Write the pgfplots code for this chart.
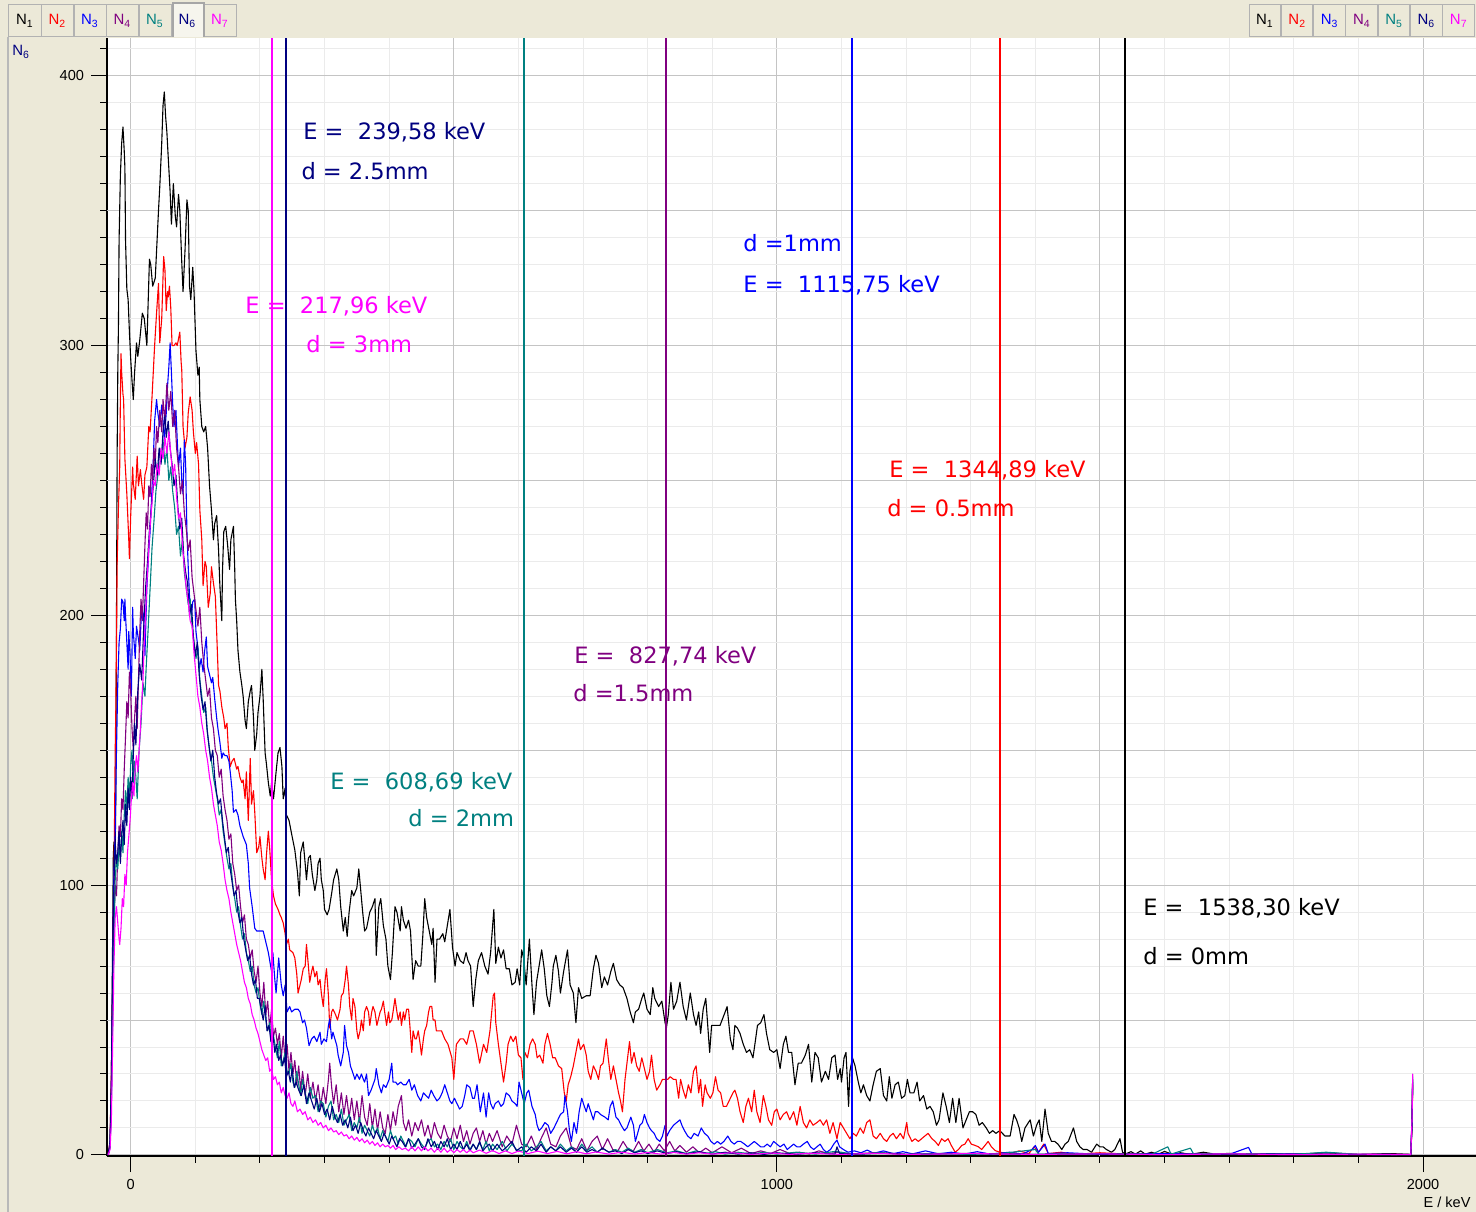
\documentclass[border=0pt]{standalone}
\usepackage{fontspec}
\setmainfont{Liberation Sans}
\newfontfamily\dv{DejaVu Sans}
\usepackage{pgfplots}
\pgfplotsset{compat=1.18}
\definecolor{bg}{HTML}{ECE9D8}
\definecolor{cN1}{HTML}{000000}
\definecolor{cN2}{HTML}{FF0000}
\definecolor{cN3}{HTML}{0000FF}
\definecolor{cN4}{HTML}{800080}
\definecolor{cN5}{HTML}{008080}
\definecolor{cN6}{HTML}{000080}
\definecolor{cN7}{HTML}{FF00FF}
\definecolor{gmaj}{HTML}{C4C4C4}
\definecolor{gmin}{HTML}{EBEBEB}
\newcommand{\lbl}{\dv\fontsize{11.3}{13}\selectfont}
\newcommand{\tabf}{\fontsize{7.5}{8}\selectfont}
\begin{document}
\begin{tikzpicture}
\fill[bg] (0bp,0bp) rectangle (738bp,606bp);
\draw[gray!55, line width=0.6bp] (4bp,0bp) -- (4bp,587.5bp);
% tabs left
\foreach \i in {0,1,2,3,4,6}{
  \draw[fill=bg, draw=gray!60, line width=0.5bp] ({(4.5+16.25*\i)*1bp},587.5bp) rectangle ({(20.5+16.25*\i)*1bp},603.5bp);
}
\draw[fill=white!55!bg, draw=gray!70, line width=0.6bp] (102bp,587.5bp) -- (102bp,604.5bp) -- (86.5bp,604.5bp) -- (86.5bp,587.5bp);
\foreach \i/\c in {0/cN1,1/cN2,2/cN3,3/cN4,4/cN5,5/cN6,6/cN7}{
  \pgfmathtruncatemacro{\n}{\i+1}
  \node[text=\c, font=\tabf, inner sep=0] at ({(12.5+16.25*\i)*1bp},595.5bp) {N\textsubscript{\n}};
}
% tabs right
\foreach \i/\c in {0/cN1,1/cN2,2/cN3,3/cN4,4/cN5,5/cN6,6/cN7}{
  \draw[fill=bg, draw=gray!60, line width=0.5bp] ({(624.5+16.15*\i)*1bp},587.5bp) rectangle ({(640.3+16.15*\i)*1bp},603.5bp);
  \pgfmathtruncatemacro{\n}{\i+1}
  \node[text=\c, font=\tabf, inner sep=0] at ({(632.5+16.15*\i)*1bp},595.5bp) {N\textsubscript{\n}};
}
\node[text=cN6, font=\tabf, inner sep=0, anchor=west] at (6bp,580bp) {N\textsubscript{6}};
\begin{axis}[
  at={(53.5bp,28bp)}, anchor=south west,
  scale only axis, width=684.5bp, height=559bp,
  xmin=-36.7, xmax=2082, ymin=-0.4, ymax=414,
  axis lines*=left,
  axis line style={black, line width=0.6bp},
  axis background/.style={fill=white},
  tick align=outside,
  tick style={black, line width=0.5bp},
  major tick length=8bp, minor tick length=3.3bp,
  xtick={0,1000,2000}, xticklabels={0,1000,2000},
  minor xtick={100,200,...,2000},
  extra x ticks={500,1500}, extra x tick labels={},
  extra x tick style={grid=major, major tick length=3.3bp},
  ytick={0,100,200,300,400},
  minor ytick={10,20,...,410},
  extra y ticks={50,150,250,350}, extra y tick labels={},
  extra y tick style={grid=major, major tick length=3.3bp},
  grid=both,
  major grid style={gmaj, line width=0.5bp},
  minor grid style={gmin, line width=0.5bp},
  tick label style={font=\fontsize{7.3}{8}\selectfont},
  /pgf/number format/assume math mode=true,
  /pgf/number format/1000 sep={},
  every axis plot/.append style={line width=0.55bp, mark=none, line join=round},
]
% N1 black
\addplot[draw=cN1] coordinates {(-35,0)(-32,3)(-30,25)(-28,80)(-27,110)(-26,116)(-25,105)(-24,112)(-23,135)(-22,200)(-21,260)(-20,290)(-19,307)(-18,339)(-16,363)(-14,375)(-12,381)(-10,372)(-9,366)(-8,339)(-6,321)(-4,317)(-2,305)(0,295)(2,287)(4,280)(6,290)(9,301)(11,296)(14,302)(18,312)(21,310)(25,300)(29,332)(31,330)(34,322)(38,325)(40,335)(43,350)(45,359)(48,375)(50,389)(52,394)(54,385)(56,379)(58,370)(61,357)(63,345)(66,360)(69,348)(71,344)(74,356)(76,350)(79,331)(81,320)(84,335)(87,354)(89,350)(91,322)(93,317)(96,329)(98,320)(101,298)(104,289)(106,292)(107,280)(110,270)(113,268)(116,270)(119,262)(122,248)(125,239)(128,228)(130,234)(133,237)(136,224)(138,211)(141,198)(142,216)(144,231)(147,233)(150,226)(153,217)(155,228)(159,233)(161,217)(162,206)(164,198)(166,187)(169,179)(172,174)(174,170)(177,161)(179,158)(182,168)(185,172)(187,174)(190,162)(192,150)(195,156)(197,164)(200,170)(203,180)(205,169)(208,149)(210,145)(213,138)(216,133)(218,138)(221,132)(225,142)(228,149)(231,151)(234,144)(236,132)(239,136)(241,126)(245,124)(249,119)(254,113)(258,105)(261,96)(263,112)(267,116)(270,108)(272,102)(275,110)(278,111)(281,104)(285,98)(288,102)(290,108)(293,110)(295,102)(298,98)(300,91)(304,89)(307,91)(311,97)(314,102)(319,106)(322,102)(325,92)(329,83)(332,88)(335,81)(338,90)(342,98)(345,96)(350,99)(353,106)(356,98)(359,90)(362,83)(365,84)(370,90)(374,92)(378,95)(380,74)(384,92)(387,95)(391,85)(395,80)(398,70)(402,65)(405,75)(409,92)(412,90)(417,83)(419,92)(422,87)(426,84)(430,87)(433,83)(437,65)(441,72)(445,70)(449,70)(452,81)(455,95)(458,88)(462,83)(466,78)(468,84)(471,64)(474,80)(478,80)(483,82)(486,79)(490,85)(494,91)(498,77)(502,70)(505,75)(510,72)(515,71)(519,75)(522,72)(526,70)(530,55)(534,65)(538,72)(543,75)(548,70)(553,67)(557,75)(562,91)(565,71)(569,77)(573,73)(577,76)(581,69)(586,69)(590,63)(595,64)(598,69)(602,63)(605,76)(608,73)(612,63)(617,80)(621,63)(624,52)(628,64)(632,70)(636,76)(640,69)(644,59)(648,55)(652,64)(654,70)(658,74)(662,68)(665,60)(670,68)(676,76)(680,63)(685,60)(689,49)(693,62)(698,58)(705,59)(711,59)(716,69)(720,74)(724,71)(729,62)(733,66)(738,63)(743,68)(747,71)(752,65)(757,63)(762,62)(768,58)(773,53)(778,49)(781,53)(786,54)(791,58)(794,60)(799,54)(804,52)(808,62)(811,58)(817,55)(822,57)(827,49)(829,47)(832,52)(836,64)(840,54)(845,57)(850,64)(855,55)(860,50)(866,60)(871,52)(875,48)(879,53)(882,45)(886,54)(890,58)(896,38)(899,48)(907,48)(912,48)(920,53)(923,55)(928,43)(932,39)(935,48)(939,47)(943,45)(948,41)(953,38)(958,39)(963,36)(966,41)(970,48)(975,49)(980,52)(984,45)(989,39)(995,38)(1000,39)(1005,32)(1010,41)(1014,44)(1018,38)(1023,38)(1028,26)(1033,34)(1038,34)(1044,37)(1049,41)(1054,27)(1059,38)(1064,36)(1069,27)(1075,31)(1080,28)(1085,36)(1090,37)(1094,28)(1098,32)(1100,27)(1104,36)(1107,38)(1111,18)(1113,31)(1117,36)(1121,33)(1126,27)(1130,23)(1134,26)(1139,22)(1144,20)(1149,26)(1154,31)(1160,32)(1165,22)(1170,20)(1174,29)(1178,21)(1183,26)(1188,27)(1193,21)(1198,22)(1202,28)(1206,23)(1212,23)(1217,27)(1221,20)(1227,22)(1232,17)(1237,18)(1242,16)(1247,11)(1251,13)(1257,23)(1262,18)(1267,12)(1272,21)(1277,12)(1282,21)(1288,10)(1293,13)(1298,16)(1303,16)(1308,15)(1313,11)(1318,12)(1324,10)(1329,8)(1334,9)(1339,8)(1345,9)(1353,7)(1361,7)(1367,15)(1371,13)(1375,10)(1379,5)(1384,10)(1392,13)(1397,7)(1402,11)(1406,13)(1410,5)(1415,17)(1420,8)(1425,5)(1430,5)(1435,4)(1441,2)(1446,4)(1451,5)(1459,10)(1464,5)(1469,3)(1474,2)(1480,2)(1487,1)(1495,4)(1500,3)(1505,3)(1510,2)(1518,1)(1523,2)(1531,6)(1535,1)(1539,0.3)(1548,1.2)(1555,0.3)(1563,1.5)(1570,0.3)(1580,1)(1590,0.2)(1600,1.3)(1612,0.2)(1625,0.8)(1640,0.2)(1660,1)(1680,0.2)(1700,0.6)(1720,0.2)(1760,0.5)(1800,0.2)(1850,0.8)(1900,0.2)(1950,0.5)(1981,0.2)(1983,12)(1984,28)};
% N2 red
\addplot[draw=cN2] coordinates {(-35,0)(-32,5)(-30,30)(-28,60)(-27,90)(-26,100)(-25,125)(-24,150)(-23,166)(-22,190)(-21,219)(-19,240)(-17,255)(-16,280)(-15,297)(-14,290)(-12,282)(-11,280)(-9,258)(-6,245)(-3,228)(-2,221)(0,237)(3,255)(4,249)(7,243)(10,259)(12,248)(15,254)(17,249)(20,243)(22,252)(25,255)(28,270)(30,268)(33,281)(37,300)(40,312)(43,323)(45,301)(48,310)(51,333)(53,328)(55,313)(57,320)(58,318)(60,322)(62,314)(64,300)(67,300)(70,301)(72,300)(76,305)(78,294)(79,291)(81,270)(84,262)(87,266)(89,275)(92,281)(95,276)(97,268)(100,260)(102,264)(105,256)(107,239)(110,228)(112,211)(115,220)(117,218)(120,203)(123,208)(125,218)(128,212)(131,207)(133,194)(136,174)(138,172)(141,166)(144,162)(146,158)(149,160)(151,151)(154,144)(157,146)(160,147)(164,143)(166,144)(169,140)(172,138)(174,139)(177,132)(179,142)(182,124)(185,147)(187,130)(190,135)(192,127)(195,112)(198,114)(200,118)(203,110)(205,106)(208,102)(210,111)(213,120)(215,114)(218,102)(221,96)(224,93)(228,91)(231,89)(233,88)(236,86)(239,82)(241,78)(244,80)(246,76)(251,75)(254,73)(257,67)(259,60)(262,63)(264,65)(267,69)(270,70)(272,78)(275,70)(277,64)(280,68)(282,70)(285,66)(288,68)(290,63)(293,65)(295,60)(298,55)(301,65)(303,69)(306,59)(308,47)(311,53)(313,54)(317,52)(320,50)(324,54)(326,59)(329,60)(332,65)(334,70)(337,63)(339,55)(342,50)(344,58)(347,55)(350,46)(352,43)(355,46)(357,50)(360,46)(362,53)(365,55)(368,53)(370,48)(373,53)(375,55)(378,53)(381,48)(383,50)(386,53)(388,54)(391,57)(393,53)(396,48)(399,53)(401,49)(404,50)(406,53)(409,58)(412,53)(414,50)(417,53)(419,48)(422,53)(424,50)(427,54)(430,54)(432,48)(435,38)(437,46)(440,43)(442,43)(445,46)(448,41)(450,37)(453,43)(455,46)(458,48)(461,53)(463,55)(466,55)(468,50)(471,50)(473,46)(476,46)(481,46)(486,43)(491,41)(497,36)(500,28)(504,41)(510,43)(515,43)(520,41)(525,46)(530,46)(535,41)(540,34)(546,41)(551,38)(556,46)(561,59)(563,60)(565,49)(569,41)(573,34)(577,27)(581,34)(584,41)(588,44)(592,42)(596,44)(600,37)(604,36)(607,28)(610,38)(614,36)(618,41)(622,43)(626,41)(629,36)(633,37)(638,34)(641,41)(645,45)(649,41)(653,36)(657,36)(662,33)(667,32)(671,23)(674,20)(677,26)(681,29)(685,33)(689,38)(693,43)(696,39)(701,41)(705,37)(708,31)(712,28)(716,33)(720,31)(724,28)(727,33)(731,34)(736,43)(739,36)(743,28)(747,33)(751,28)(755,23)(758,20)(761,16)(765,28)(769,36)(772,42)(775,34)(779,38)(783,33)(787,31)(791,36)(794,33)(799,28)(803,31)(806,37)(810,28)(814,24)(819,26)(823,28)(827,28)(831,28)(835,29)(840,28)(844,28)(848,21)(851,28)(855,24)(859,21)(863,26)(867,23)(871,31)(875,33)(879,23)(882,28)(885,18)(889,26)(892,23)(897,21)(901,23)(905,29)(909,24)(913,23)(917,18)(922,18)(928,21)(932,23)(935,24)(939,21)(943,16)(948,12)(952,18)(956,21)(961,16)(965,24)(969,16)(974,12)(979,22)(983,18)(987,13)(992,11)(996,16)(1000,17)(1005,13)(1010,15)(1015,16)(1020,13)(1026,16)(1031,11)(1036,18)(1041,12)(1046,10)(1051,13)(1056,11)(1062,12)(1067,13)(1072,11)(1077,13)(1082,8)(1087,12)(1093,6)(1098,12)(1103,10)(1108,8)(1113,6)(1118,8)(1123,7)(1129,10)(1134,8)(1139,12)(1144,13)(1149,7)(1154,6)(1160,8)(1165,6)(1170,5)(1175,7)(1180,8)(1185,6)(1191,8)(1196,6)(1201,12)(1203,8)(1209,5)(1214,6)(1219,5)(1224,6)(1229,7)(1234,8)(1240,6)(1245,5)(1250,3.5)(1255,6)(1260,5)(1265,6)(1270,3.5)(1276,1)(1281,2)(1286,3.5)(1291,4)(1296,6)(1301,4)(1307,3.5)(1312,3)(1317,2)(1322,3.5)(1327,5)(1332,3)(1338,1.6)(1345,1)(1360,0.5)(1375,1.5)(1390,0.5)(1398,3)(1405,1)(1413,4)(1420,0.5)(1440,1)(1460,0.2)(1500,0.8)(1550,0.2)(1600,0.6)(1650,0.2)(1700,0.5)(1750,0.1)(1800,0.4)(1900,0.1)(1981,0.2)(1983,10)(1984,26)};
% N3 blue
\addplot[draw=cN3] coordinates {(-35,0)(-32,3)(-30,20)(-28,60)(-27,90)(-26,105)(-24,120)(-22,150)(-20,175)(-18,190)(-16,195)(-14,206)(-12,205)(-10,198)(-9,206)(-8,200)(-6,190)(-4,180)(-3,194)(-1,185)(1,170)(3,203)(4,194)(7,184)(9,196)(12,191)(14,187)(17,203)(20,200)(22,185)(25,210)(28,224)(30,231)(32,242)(35,258)(37,272)(40,280)(42,275)(45,270)(48,278)(50,272)(52,265)(55,275)(57,285)(59,292)(61,301)(63,290)(65,278)(67,270)(70,276)(72,265)(74,255)(77,262)(79,250)(81,245)(83,265)(85,256)(87,231)(89,218)(91,207)(94,200)(96,205)(99,206)(101,194)(104,188)(106,180)(109,184)(112,179)(114,186)(117,192)(119,181)(122,178)(125,175)(127,177)(130,169)(133,162)(135,158)(138,153)(141,147)(143,149)(146,148)(149,148)(152,146)(154,142)(157,135)(159,127)(163,128)(166,126)(169,122)(174,118)(179,115)(182,108)(184,99)(188,92)(192,84)(195,83)(200,83)(205,83)(208,80)(213,75)(218,68)(220,75)(223,65)(225,60)(229,73)(233,63)(236,59)(239,63)(242,53)(246,55)(249,53)(254,54)(259,54)(262,53)(266,49)(269,50)(272,47)(276,40.5)(280,43)(284,44)(288,42)(293,45.5)(295,41)(299,43)(303,42)(306,48)(308,50.4)(311,43)(313,45.5)(316,43)(319,40.5)(321,37)(325,33)(329,38)(331,48)(334,40.5)(337,38)(340,33)(343,31)(347,28)(350,30)(354,28)(357,30)(360,28)(362,27)(365,30)(368,22)(372,24)(378,28)(380,32)(384,26)(388,23)(391,26)(395,25)(400,28)(404,34)(406,27)(410,27)(413,26)(418,27)(422,26)(426,26)(431,28)(435,24)(439,26)(444,22)(449,20)(453,23)(457,22)(461,21)(465,24)(469,22)(474,20)(478,21)(482,23)(486,26)(490,23)(494,20)(497,19)(501,21)(505,19)(509,17)(513,18)(517,22)(520,26)(525,25)(529,21)(532,21)(536,26)(541,16)(546,23)(550,14)(554,23)(557,19)(561,17)(564,19)(569,20)(573,18)(577,19)(581,23)(586,22)(590,20)(595,19)(598,18)(601,27)(605,23)(609,19)(613,23)(616,24)(621,18)(626,15)(629,11)(632,9)(636,10)(641,12)(646,11)(650,8)(655,10)(659,12)(665,15)(670,16)(672,22)(676,16)(679,9)(682,5)(686,12)(690,8)(694,16)(698,21)(702,18)(705,16)(708,19)(712,16)(716,13)(719,16)(723,16)(727,15)(734,14)(739,13)(742,18)(746,20)(751,14)(755,13)(759,11)(764,9)(768,10)(774,14)(778,11)(781,5)(788,11)(792,12)(795,15)(799,12)(803,10)(806,9)(810,8)(814,6)(819,5)(823,7)(827,11)(830,7)(834,9)(840,11)(845,12)(850,13)(853,11)(857,9)(862,7)(867,6)(872,8)(878,7)(883,10)(888,8)(893,7)(898,5)(903,4)(908,5)(913,4)(918,5)(924,7)(929,5)(934,4)(939,5)(944,5)(950,4)(955,3)(960,4)(965,5)(970,4)(975,3)(980,3)(985,4)(990,3)(995,5)(1000,4)(1005,3)(1011,4)(1016,2)(1021,3)(1026,4)(1031,3)(1036,3)(1041,4)(1047,5)(1052,3)(1057,2)(1062,3)(1067,4)(1072,2)(1077,1)(1083,2)(1088,4)(1093,5.5)(1097,3)(1103,2)(1110,1)(1120,1.5)(1130,0.8)(1140,1.8)(1150,0.6)(1165,1.5)(1180,0.5)(1195,1.2)(1210,0.4)(1230,1.5)(1250,0.4)(1270,1)(1290,0.3)(1310,1.2)(1330,0.3)(1360,1)(1380,0.3)(1395,2)(1400,3.5)(1405,1)(1415,4)(1420,0.5)(1450,0.8)(1500,0.2)(1600,0.5)(1700,0.2)(1730,2.8)(1735,0.3)(1800,0.4)(1900,0.1)(1981,0.2)(1983,12)(1984,28)};
% N4 purple
\addplot[draw=cN4] coordinates {(-35,0)(-32,4)(-30,22)(-28,55)(-26,85)(-24,100)(-22,96)(-20,112)(-18,122)(-16,118)(-14,132)(-12,128)(-10,143)(-8,155)(-6,168)(-4,162)(-2,179)(0,172)(2,158)(4,150)(6,162)(8,170)(10,158)(12,176)(14,194)(16,206)(18,198)(20,212)(22,226)(24,238)(26,232)(28,248)(30,244)(32,256)(34,250)(36,262)(38,256)(40,270)(42,264)(45,276)(48,268)(50,280)(53,272)(56,286)(59,276)(62,283)(65,270)(68,276)(71,262)(74,255)(77,245)(80,250)(83,238)(86,232)(89,224)(92,228)(95,214)(98,208)(101,202)(104,196)(107,203)(110,190)(113,182)(116,176)(119,170)(122,173)(125,162)(128,158)(131,150)(134,148)(137,140)(140,143)(143,133)(146,128)(149,124)(152,117)(155,119)(158,108)(161,104)(164,98)(167,100)(170,92)(173,86)(176,89)(179,80)(182,78)(185,73)(188,76)(191,68)(194,64)(197,70)(200,60)(203,55)(206,64)(209,52)(212,57)(215,47)(218,54)(221,44)(224,47)(227,41)(230,45)(233,36)(236,44)(239,35)(242,41)(245,31)(248,38)(251,30)(254,35)(257,26)(260,33)(263,24)(266,31)(270,22)(274,30)(278,21)(282,27)(286,20)(290,26)(294,18)(298,25)(302,19)(306,28)(308,34)(311,25)(314,19)(318,26)(322,16)(326,23)(330,15)(334,22)(338,14)(342,21)(346,13)(350,20)(354,12)(358,22)(362,14)(366,11)(370,19)(374,10)(378,17)(382,9)(386,16)(390,10)(394,8)(398,15)(402,9)(406,16)(410,11)(414,18)(419,22)(422,12)(426,9)(430,13)(435,7)(440,12)(445,9)(450,13)(455,7)(460,11)(465,6)(470,12)(475,8)(480,6)(485,11)(490,7)(495,5)(500,10)(505,6)(510,11)(515,5)(520,9)(525,4)(530,8)(535,10)(540,5)(545,9)(550,4)(555,8)(560,5)(567,9)(575,3)(582,7)(590,4)(597,11)(605,4)(612,3)(620,7)(628,2)(635,6)(643,10)(650,4)(658,3)(665,7)(674,10)(682,3)(690,2)(698,6)(706,1.5)(714,5)(722,7)(730,2)(738,6)(746,2)(754,1.5)(762,5)(770,2)(778,1.5)(786,5)(794,1.5)(802,4)(810,1)(818,4)(826,1.5)(834,5)(842,1.5)(850,3.5)(860,1)(870,3)(880,0.8)(890,2.5)(900,0.8)(915,3)(930,0.8)(945,2.5)(960,0.5)(975,1.5)(990,0.5)(1005,2)(1020,0.5)(1035,1)(1050,0.3)(1065,1.5)(1080,0.5)(1095,1)(1110,0.3)(1150,0.8)(1200,0.2)(1300,0.6)(1400,0.2)(1500,0.4)(1600,0.1)(1700,0.3)(1800,0.1)(1900,0.2)(1981,0.1)(1983,14)(1984,30)};
% N5 teal
\addplot[draw=cN5] coordinates {(-35,0)(-32,3)(-30,18)(-28,50)(-26,80)(-24,102)(-22,110)(-20,106)(-18,115)(-16,110)(-14,120)(-12,112)(-10,126)(-8,135)(-6,128)(-4,140)(-2,132)(0,145)(2,150)(4,138)(6,146)(8,140)(10,132)(13,150)(16,160)(19,175)(22,170)(24,181)(27,195)(30,210)(33,225)(36,235)(39,246)(42,252)(45,262)(47,258)(50,265)(53,256)(56,262)(59,250)(62,255)(65,246)(68,240)(71,230)(74,233)(77,222)(80,228)(83,216)(86,210)(89,204)(92,206)(95,196)(98,190)(101,184)(104,188)(107,176)(110,170)(113,164)(116,166)(119,156)(122,150)(125,146)(128,140)(131,136)(134,132)(137,126)(140,128)(143,120)(146,115)(149,110)(152,106)(155,108)(158,100)(161,95)(164,90)(167,92)(170,85)(173,80)(176,82)(179,75)(182,72)(185,68)(188,70)(191,63)(194,60)(197,62)(200,56)(203,52)(206,57)(209,50)(212,46)(215,49)(218,41)(221,44)(224,40)(227,36)(230,42)(233,33)(236,35)(239,38)(242,31)(245,30)(248,34)(251,27)(254,25)(257,31)(260,26)(263,22)(266,28)(270,23)(274,19)(278,25)(282,21)(286,22)(290,16)(294,20)(298,19)(302,14)(306,18)(310,20)(314,13)(318,15)(322,12)(326,17)(330,11)(334,13)(338,15)(342,9)(346,12)(350,10)(354,14)(358,8)(362,11)(366,9)(370,7)(374,11)(378,8)(382,10)(386,6)(390,9)(394,7)(398,5)(402,9)(406,6)(410,7)(414,4)(418,7)(422,5)(426,3)(430,6)(435,5)(440,3)(445,6)(450,4)(455,2.5)(460,5)(465,6)(470,3)(475,4)(480,2)(485,5)(490,3)(495,6)(500,2)(505,5)(510,3)(515,2)(520,5)(525,2)(530,4)(535,2)(540,4.5)(545,2)(550,5)(555,1.5)(560,4)(567,2)(575,5)(582,1.5)(590,4)(597,2)(605,1.5)(612,4)(620,1.5)(628,3)(635,5)(643,1.5)(650,3)(658,1.5)(665,4)(674,1.5)(682,3)(690,1)(698,4)(706,1.5)(714,3)(722,1)(730,2.5)(740,1)(750,2)(760,1)(770,2.5)(780,1)(790,2)(800,0.8)(815,2)(830,0.8)(845,1.5)(860,0.5)(875,1.5)(890,0.5)(905,1.2)(920,0.3)(940,1)(960,0.3)(980,1)(1000,0.3)(1030,1)(1060,0.3)(1090,1.3)(1120,0.3)(1160,0.8)(1200,0.2)(1250,0.6)(1300,0.2)(1350,0.6)(1400,2)(1405,0.3)(1500,0.5)(1580,0.2)(1605,3)(1610,0.3)(1640,2.5)(1645,0.3)(1700,0.4)(1800,0.2)(1850,1)(1900,0.2)(1981,0.1)(1983,12)(1984,29)};
% N6 navy
\addplot[draw=cN6] coordinates {(-35,0)(-32,5)(-30,28)(-28,70)(-26,100)(-24,116)(-22,108)(-20,112)(-18,120)(-16,108)(-14,118)(-12,124)(-10,115)(-8,130)(-6,122)(-4,136)(-2,128)(0,140)(2,132)(4,148)(6,160)(8,152)(11,172)(14,182)(17,176)(20,195)(23,210)(26,220)(29,232)(32,240)(35,248)(38,258)(41,252)(44,262)(47,256)(50,268)(53,274)(55,266)(58,272)(61,262)(64,256)(67,248)(70,252)(73,240)(76,232)(79,236)(82,222)(85,216)(88,212)(91,200)(94,204)(97,192)(100,185)(103,190)(106,178)(109,170)(112,165)(115,168)(118,158)(121,152)(124,146)(127,150)(130,140)(133,134)(136,130)(139,132)(142,124)(145,118)(148,112)(151,114)(154,106)(157,101)(160,96)(163,98)(166,90)(169,86)(172,88)(175,80)(178,76)(181,72)(184,74)(187,67)(190,63)(193,65)(196,58)(199,58)(202,54)(205,50)(208,55)(211,46)(214,48)(217,42)(220,45)(223,38)(226,41)(229,35)(232,37)(235,33)(238,36)(241,29)(244,31)(247,27)(250,32)(253,25)(256,27)(260,24)(264,22)(268,26)(272,19)(276,23)(280,20)(284,17)(288,21)(292,16)(296,19)(300,15)(304,17)(308,13)(312,18)(316,14)(320,12)(324,15)(328,11)(332,13)(336,10)(340,14)(344,9)(348,11)(352,8)(356,12)(360,9)(364,7)(368,10)(372,8)(376,6)(380,9)(384,7)(388,5)(392,8)(396,6)(400,4)(404,7)(408,5)(412,3)(416,6)(420,5)(425,3)(430,6)(435,2.5)(440,4)(445,6)(450,3)(455,2)(460,6)(465,3)(470,5)(475,2)(480,5)(485,3)(490,6)(495,2)(500,4)(505,2)(510,5)(515,2)(520,4)(525,1.5)(530,4)(535,2)(540,5)(545,1.5)(550,3)(555,4)(560,1.5)(567,4)(575,1.5)(582,3)(590,5)(597,1.5)(605,3)(612,1)(620,3)(628,1.5)(635,4)(643,1)(650,3)(658,1.5)(665,3)(674,1)(682,2.5)(690,1)(698,3)(706,1)(714,2)(722,1)(730,2.5)(740,1)(750,1.5)(760,0.5)(770,2)(780,0.8)(790,1.5)(800,0.5)(815,1.5)(830,0.5)(845,1.2)(860,0.4)(880,1.2)(900,0.3)(920,1)(940,0.3)(960,0.8)(980,0.2)(1000,0.8)(1030,0.2)(1060,0.8)(1090,0.3)(1093,3)(1097,0.5)(1130,0.3)(1170,0.7)(1200,0.2)(1300,0.5)(1400,0.2)(1500,0.4)(1600,0.1)(1700,0.3)(1800,0.1)(1900,0.2)(1981,0.1)(1983,11)(1984,27)};
% N7 magenta
\addplot[draw=cN7] coordinates {(-35,0)(-32,2)(-30,12)(-28,40)(-26,70)(-24,88)(-22,92)(-20,86)(-18,80)(-17,78)(-15,84)(-13,95)(-11,92)(-9,104)(-7,100)(-5,112)(-3,118)(-1,124)(1,132)(3,138)(5,133)(7,144)(9,148)(11,142)(13,150)(15,158)(17,168)(19,176)(21,190)(23,200)(25,212)(27,220)(29,230)(31,236)(33,242)(35,250)(38,248)(41,256)(44,252)(47,262)(50,258)(53,266)(56,260)(59,268)(62,260)(65,252)(68,256)(71,244)(74,236)(77,238)(80,226)(83,218)(86,210)(89,205)(92,198)(95,196)(98,186)(101,178)(104,170)(107,166)(110,160)(113,156)(116,150)(119,146)(122,140)(125,136)(128,130)(131,126)(134,122)(137,116)(140,113)(143,108)(146,102)(149,98)(152,95)(155,90)(158,86)(161,82)(164,78)(167,75)(170,72)(173,68)(176,64)(179,62)(182,58)(185,56)(188,52)(191,50)(194,47)(197,45)(200,42)(203,39)(206,37)(209,35)(212,36)(215,31)(218,32)(221,28)(224,29)(227,26)(230,27)(233,23)(236,25)(239,22)(242,21)(245,23)(248,19)(251,18)(254,20)(258,16)(262,17)(266,15)(270,16)(274,13)(278,14)(282,12)(286,13)(290,11)(294,12)(298,10)(302,11)(306,9)(310,10)(314,8.5)(318,9)(322,7.5)(326,8.5)(330,7)(334,7.5)(338,6)(342,7)(346,5.5)(350,6.5)(354,5)(358,6)(362,4.5)(366,5.5)(370,4)(374,5)(378,3.5)(382,4.5)(386,3)(390,4)(394,3)(398,3.5)(402,2.5)(406,3.5)(410,2)(415,3)(420,2)(425,2.5)(430,1.5)(435,3)(440,1.5)(445,3)(450,1.5)(455,3)(460,1.5)(465,2.5)(470,1)(475,2.5)(480,1)(485,2.5)(490,1)(495,2)(500,0.8)(505,2)(510,1)(515,2)(520,0.8)(525,1.8)(530,0.8)(540,1.8)(550,0.6)(560,1.6)(570,0.5)(580,1.5)(590,0.5)(600,1.4)(615,0.5)(630,1.4)(645,0.5)(660,1.3)(675,0.4)(690,1.2)(705,0.4)(720,1.1)(740,0.3)(760,1)(780,0.3)(800,0.9)(820,0.3)(840,0.9)(860,0.3)(880,0.8)(900,0.3)(930,0.8)(960,0.2)(990,0.7)(1020,0.2)(1050,0.6)(1100,0.2)(1150,0.6)(1200,0.2)(1300,0.5)(1400,0.2)(1500,0.4)(1600,0.1)(1700,0.4)(1800,0.1)(1900,0.3)(1981,0.1)(1983,13)(1984,30)};
% marker lines
\addplot[draw=cN7, line width=1bp] coordinates {(217.96,-0.4)(217.96,414)};
\addplot[draw=cN6, line width=1bp] coordinates {(239.58,-0.4)(239.58,414)};
\addplot[draw=cN5, line width=1bp] coordinates {(608.69,-0.4)(608.69,414)};
\addplot[draw=cN4, line width=1bp] coordinates {(827.74,-0.4)(827.74,414)};
\addplot[draw=cN3, line width=1bp] coordinates {(1115.75,-0.4)(1115.75,414)};
\addplot[draw=cN2, line width=1bp] coordinates {(1344.89,-0.4)(1344.89,414)};
\addplot[draw=cN1, line width=1bp] coordinates {(1538.30,-0.4)(1538.30,414)};
% labels
\begin{scope}[every node/.style={anchor=west, inner sep=0, font=\lbl}]
\node[text=cN6] at (axis cs:266.6,378.9) {E = \ 239,58 keV};
\node[text=cN6] at (axis cs:263.7,364.8) {d = 2.5mm};
\node[text=cN3] at (axis cs:947.6,337.8) {d =1mm};
\node[text=cN3] at (axis cs:947.6,322.2) {E = \ 1115,75 keV};
\node[text=cN7] at (axis cs:176.9,314.4) {E = \ 217,96 keV};
\node[text=cN7] at (axis cs:271.4,300.7) {d = 3mm};
\node[text=cN2] at (axis cs:1173.4,253.7) {E = \ 1344,89 keV};
\node[text=cN2] at (axis cs:1170.3,239.6) {d = 0.5mm};
\node[text=cN4] at (axis cs:686,184.8) {E = \ 827,74 keV};
\node[text=cN4] at (axis cs:684.5,171.1) {d =1.5mm};
\node[text=cN5] at (axis cs:308.3,138.1) {E = \ 608,69 keV};
\node[text=cN5] at (axis cs:429.2,124.8) {d = 2mm};
\node[text=cN1] at (axis cs:1566.6,91.5) {E = \ 1538,30 keV};
\node[text=cN1] at (axis cs:1566.6,73.7) {d = 0mm};
\end{scope}
\end{axis}
\node[font=\fontsize{7.3}{8}\selectfont, inner sep=0] at (723.5bp,5bp) {E / keV};
\pgfresetboundingbox
\path (0bp,0bp) rectangle (738bp,606bp);
\end{tikzpicture}
\end{document}
